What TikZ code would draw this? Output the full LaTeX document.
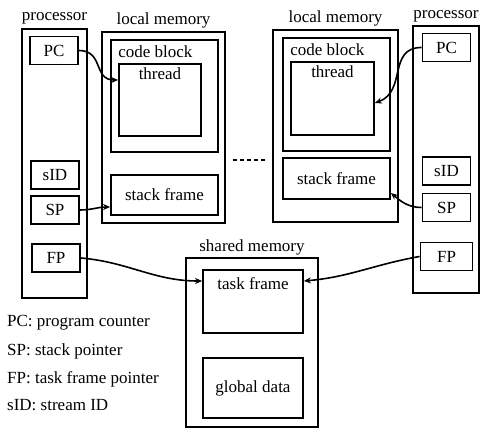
\documentclass[tikz,border=0pt]{standalone}
\usepackage{fontspec}
\setmainfont{Liberation Serif}
\usetikzlibrary{arrows.meta, positioning}

\begin{document}
\begin{tikzpicture}[x=1pt, y=1pt,
        box/.style={rectangle, draw, line width=1.8pt, inner sep=0pt},
        reg/.style={box, minimum width=48pt, minimum height=28pt},
        title/.style={inner sep=0pt},
        ptr/.style={-{Stealth[length=7pt, width=6pt]}, line width=1.6pt},
        every node/.style={font=\fontsize{17}{20}\selectfont}
    ]
    \useasboundingbox (0,0) rectangle (482,428);

    % linker Prozessor
    \node[box, minimum width=65pt, minimum height=269pt] (procL) at (54.5,264.5) {};
    \node[title, above=4pt of procL.north] {processor};
    \node[reg] (pcL) at (54,377.5) {PC};
    \node[reg] (sidL) at (55,253) {sID};
    \node[reg] (spL) at (55,218) {SP};
    \node[reg] (fpL) at (56,170) {FP};

    % linker lokaler Speicher
    \node[box, minimum width=123pt, minimum height=191pt] (lmemL) at (163.5,300.5) {};
    \node[title, above=3pt of lmemL.north] {local memory};
    \node[box, minimum width=107pt, minimum height=112pt] (codeL) at (164.5,332) {};
    \node[title, below right=6pt and 8pt of codeL.north west] {code block};
    \node[box, minimum width=82pt, minimum height=72pt] (threadL) at (160,328) {};
    \node[title, below=4pt of threadL.north] {thread};
    \node[box, minimum width=107pt, minimum height=40pt] (stackL) at (164.5,233) {stack frame};

    % rechter lokaler Speicher
    \node[box, minimum width=125pt, minimum height=192pt] (lmemR) at (335.5,302) {};
    \node[title, above=3pt of lmemR.north] {local memory};
    \node[box, minimum width=107pt, minimum height=113pt] (codeR) at (336.5,333.5) {};
    \node[title, below right=6pt and 8pt of codeR.north west] {code block};
    \node[box, minimum width=83pt, minimum height=73pt] (threadR) at (332.5,329.5) {};
    \node[title, below=4pt of threadR.north] {thread};
    \node[box, minimum width=107pt, minimum height=41pt] (stackR) at (336.5,249.5) {stack frame};

    % rechter Prozessor
    \node[box, minimum width=66pt, minimum height=267pt] (procR) at (446,268.5) {};
    \node[title, above=3pt of procR.north] {processor};
    \node[reg] (pcR) at (446.5,380.5) {PC};
    \node[reg] (sidR) at (446.5,257) {sID};
    \node[reg] (spR) at (446.5,220.5) {SP};
    \node[reg, minimum width=52pt] (fpR) at (446.5,171.5) {FP};

    % gemeinsamer Speicher
    \node[box, minimum width=132pt, minimum height=169pt] (shmem) at (252,85.5) {};
    \node[title, above=1.5pt of shmem.north] {shared memory};
    \node[box, minimum width=100pt, minimum height=63pt] (taskfr) at (253,126.5) {};
    \node[title, below=8pt of taskfr.north] {task frame};
    \node[box, minimum width=100pt, minimum height=60pt] (global) at (253,40) {global data};

    % Legende
    \node[title, anchor=base west] (legPC) at (7,101) {PC: program counter};
    \node[title, anchor=base west] (legSP) at (7,72) {SP: stack pointer};
    \node[title, anchor=base west] (legFP) at (7,44.5) {FP: task frame pointer};
    \node[title, anchor=base west] (legID) at (7,17) {sID: stream ID};

    % weitere Knoten
    \draw[line width=1.8pt, dash pattern=on 4pt off 3pt] ([xshift=7pt, yshift=-32.5pt]lmemL.east) -- ([xshift=-7pt, yshift=-34pt]lmemR.west);

    % Zeiger
    \draw[ptr] (pcL.east) to[out=0, in=180, looseness=1.3] ([yshift=20pt]threadL.west);
    \draw[ptr] (spL.east) to[out=0, in=180] ([yshift=-12pt]stackL.west);
    \draw[ptr] (fpL.east) to[out=-5, in=180] ([yshift=20.5pt]taskfr.west);
    \draw[ptr] (pcR.west) to[out=180, in=20, looseness=1.2] ([yshift=-4.5pt]threadR.east);
    \draw[ptr] (spR.west) to[out=180, in=-40] ([yshift=-14.5pt]stackR.east);
    \draw[ptr] (fpR.west) to[out=190, in=5] ([yshift=20.5pt]taskfr.east);

\end{tikzpicture}
\end{document}
